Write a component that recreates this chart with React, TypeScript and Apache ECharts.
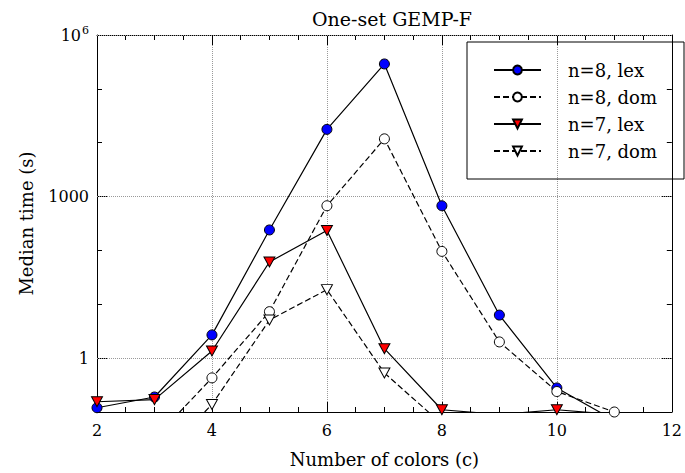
import React, { useEffect, useRef } from "react";
import * as echarts from "echarts";

const colors = [2, 3, 4, 5, 6, 7, 8, 9, 10, 11];
const n8lex = [0.12, 0.19, 2.7, 240, 17700, 290000, 675, 6.3, 0.28, 0.07];
const n8dom = [null, 0.032, 0.43, 7.3, 675, 11800, 96, 2.0, 0.24, 0.1];
const n7lex = [0.155, 0.17, 1.36, 61, 235, 1.5, 0.11, 0.09, 0.11, 0.09];
const n7dom = [null, 0.011, 0.138, 5.1, 18.7, 0.53, 0.06, null, null, null];
const seriesNames = ["n=8, lex", "n=8, dom", "n=7, lex", "n=7, dom"];
const yLabelValues = [1, 1000, 1000000];
const xTicks = [2, 4, 6, 8, 10, 12];

const FONT = "DejaVu Serif";
const TRI = "path://M0,0L10,0L5,9Z";

function pairs(ys: (number | null)[]) {
  const out: [number, number][] = [];
  colors.forEach((c, i) => {
    const v = ys[i];
    if (v != null) out.push([c, v]);
  });
  return out;
}

export default function App() {
  const ref = useRef<HTMLDivElement>(null);
  useEffect(() => {
    if (!ref.current) return;
    const chart = echarts.init(ref.current, null, { renderer: "svg" });
    const axisLine = { show: true, lineStyle: { color: "#000", width: 1 } };
    const xCommon = {
      type: "value" as const,
      min: xTicks[0],
      max: xTicks[xTicks.length - 1],
      interval: 2,
      axisLine,
      axisTick: { show: true, inside: true, length: 10, lineStyle: { color: "#000" } },
      minorTick: { show: true, splitNumber: 4, length: 5, lineStyle: { color: "#000" } },
    };
    const yCommon = {
      type: "log" as const,
      logBase: 10,
      min: 0.1,
      max: 1000000,
      axisLine,
      splitLine: { show: false },
    };
    const fmtY = (v: number) => {
      const e = Math.round(Math.log10(v));
      if (e === 6) return "{b|10}{sup|6}";
      if (e === 0) return "{b|1}";
      if (e === 3) return "{b|1000}";
      return "";
    };
    const gridLine = { color: "#999", type: "dotted" as const, width: 1 };
    const lineBase = (name: string, data: [number, number][], dashed: boolean, symbol: string, fill: string) => ({
      name,
      type: "line" as const,
      data,
      symbol,
      symbolSize: symbol === "circle" ? 10 : [11, 10],
      clip: true,
      lineStyle: { color: "#000", width: 1.2, type: dashed ? [6, 3] : "solid" },
      itemStyle: { color: fill, borderColor: "#000", borderWidth: 1 },
      z: 3,
    });
    const s0: any = lineBase(seriesNames[0], pairs(n8lex), false, "circle", "#0000ff");
    s0.markLine = {
      silent: true,
      symbol: "none",
      label: { show: false },
      lineStyle: gridLine,
      data: yLabelValues.map((v) => ({ yAxis: v })),
      z: 1,
    };
    chart.setOption({
      animation: false,
      title: {
        text: "One-set GEMP-F",
        left: 312,
        top: 9,
        padding: 0,
        textStyle: { fontFamily: FONT, fontSize: 19, fontWeight: "normal", color: "#000" },
      },
      grid: { left: 97, right: 1, top: 35, bottom: 60, containLabel: false },
      legend: {
        orient: "vertical",
        left: 493,
        top: 61,
        padding: 0,
        itemWidth: 47,
        itemHeight: 11,
        itemGap: 9,
        data: seriesNames,
        textStyle: { fontFamily: FONT, fontSize: 18, color: "#000", padding: [0, 0, 0, 22] },
      },
      graphic: [
        {
          type: "rect",
          shape: { x: 467, y: 42, width: 217, height: 137 },
          style: { fill: "none", stroke: "#000", lineWidth: 1 },
          z: 10,
        },
      ],
      xAxis: [
        {
          ...xCommon,
          position: "bottom",
          splitLine: { show: true, lineStyle: gridLine },
          axisLabel: { fontFamily: FONT, fontSize: 16, color: "#000", margin: 10 },
          name: "Number of colors (c)",
          nameLocation: "middle",
          nameGap: 38,
          nameTextStyle: { fontFamily: FONT, fontSize: 18, color: "#000" },
        },
        {
          ...xCommon,
          position: "top",
          splitLine: { show: false },
          axisLabel: { show: false },
        },
      ],
      yAxis: [
        {
          ...yCommon,
          position: "left",
          axisTick: { show: true, inside: true, length: 5, lineStyle: { color: "#000" } },
          axisLabel: {
            fontFamily: FONT,
            fontSize: 16,
            color: "#000",
            margin: 8,
            formatter: fmtY,
            rich: {
              b: { fontFamily: FONT, fontSize: 16, color: "#000" },
              sup: { fontFamily: FONT, fontSize: 11, color: "#000", padding: [0, 0, 9, 1] },
            },
          },
          name: "Median time (s)",
          nameLocation: "middle",
          nameGap: 62,
          nameTextStyle: { fontFamily: FONT, fontSize: 18, color: "#000" },
        },
        {
          ...yCommon,
          position: "right",
          axisTick: { show: true, inside: true, length: 5, lineStyle: { color: "#000" } },
          axisLabel: { show: false },
        },
        {
          ...yCommon,
          position: "left",
          axisLine: { show: false },
          axisTick: { show: true, inside: true, length: 10, customValues: yLabelValues, lineStyle: { color: "#000" } },
          axisLabel: { show: false },
        },
        {
          ...yCommon,
          position: "right",
          axisLine: { show: false },
          axisTick: { show: true, inside: true, length: 10, customValues: yLabelValues, lineStyle: { color: "#000" } },
          axisLabel: { show: false },
        },
      ],
      series: [
        s0,
        lineBase(seriesNames[1], pairs(n8dom), true, "circle", "#ffffff"),
        lineBase(seriesNames[2], pairs(n7lex), false, TRI, "#ff0000"),
        lineBase(seriesNames[3], pairs(n7dom), true, TRI, "#ffffff"),
      ],
    });
    return () => chart.dispose();
  }, []);
  return (
    <div
      ref={ref}
      style={{ position: "fixed", left: 0, top: 0, width: 685, height: 473, background: "#fff" }}
    />
  );
}
